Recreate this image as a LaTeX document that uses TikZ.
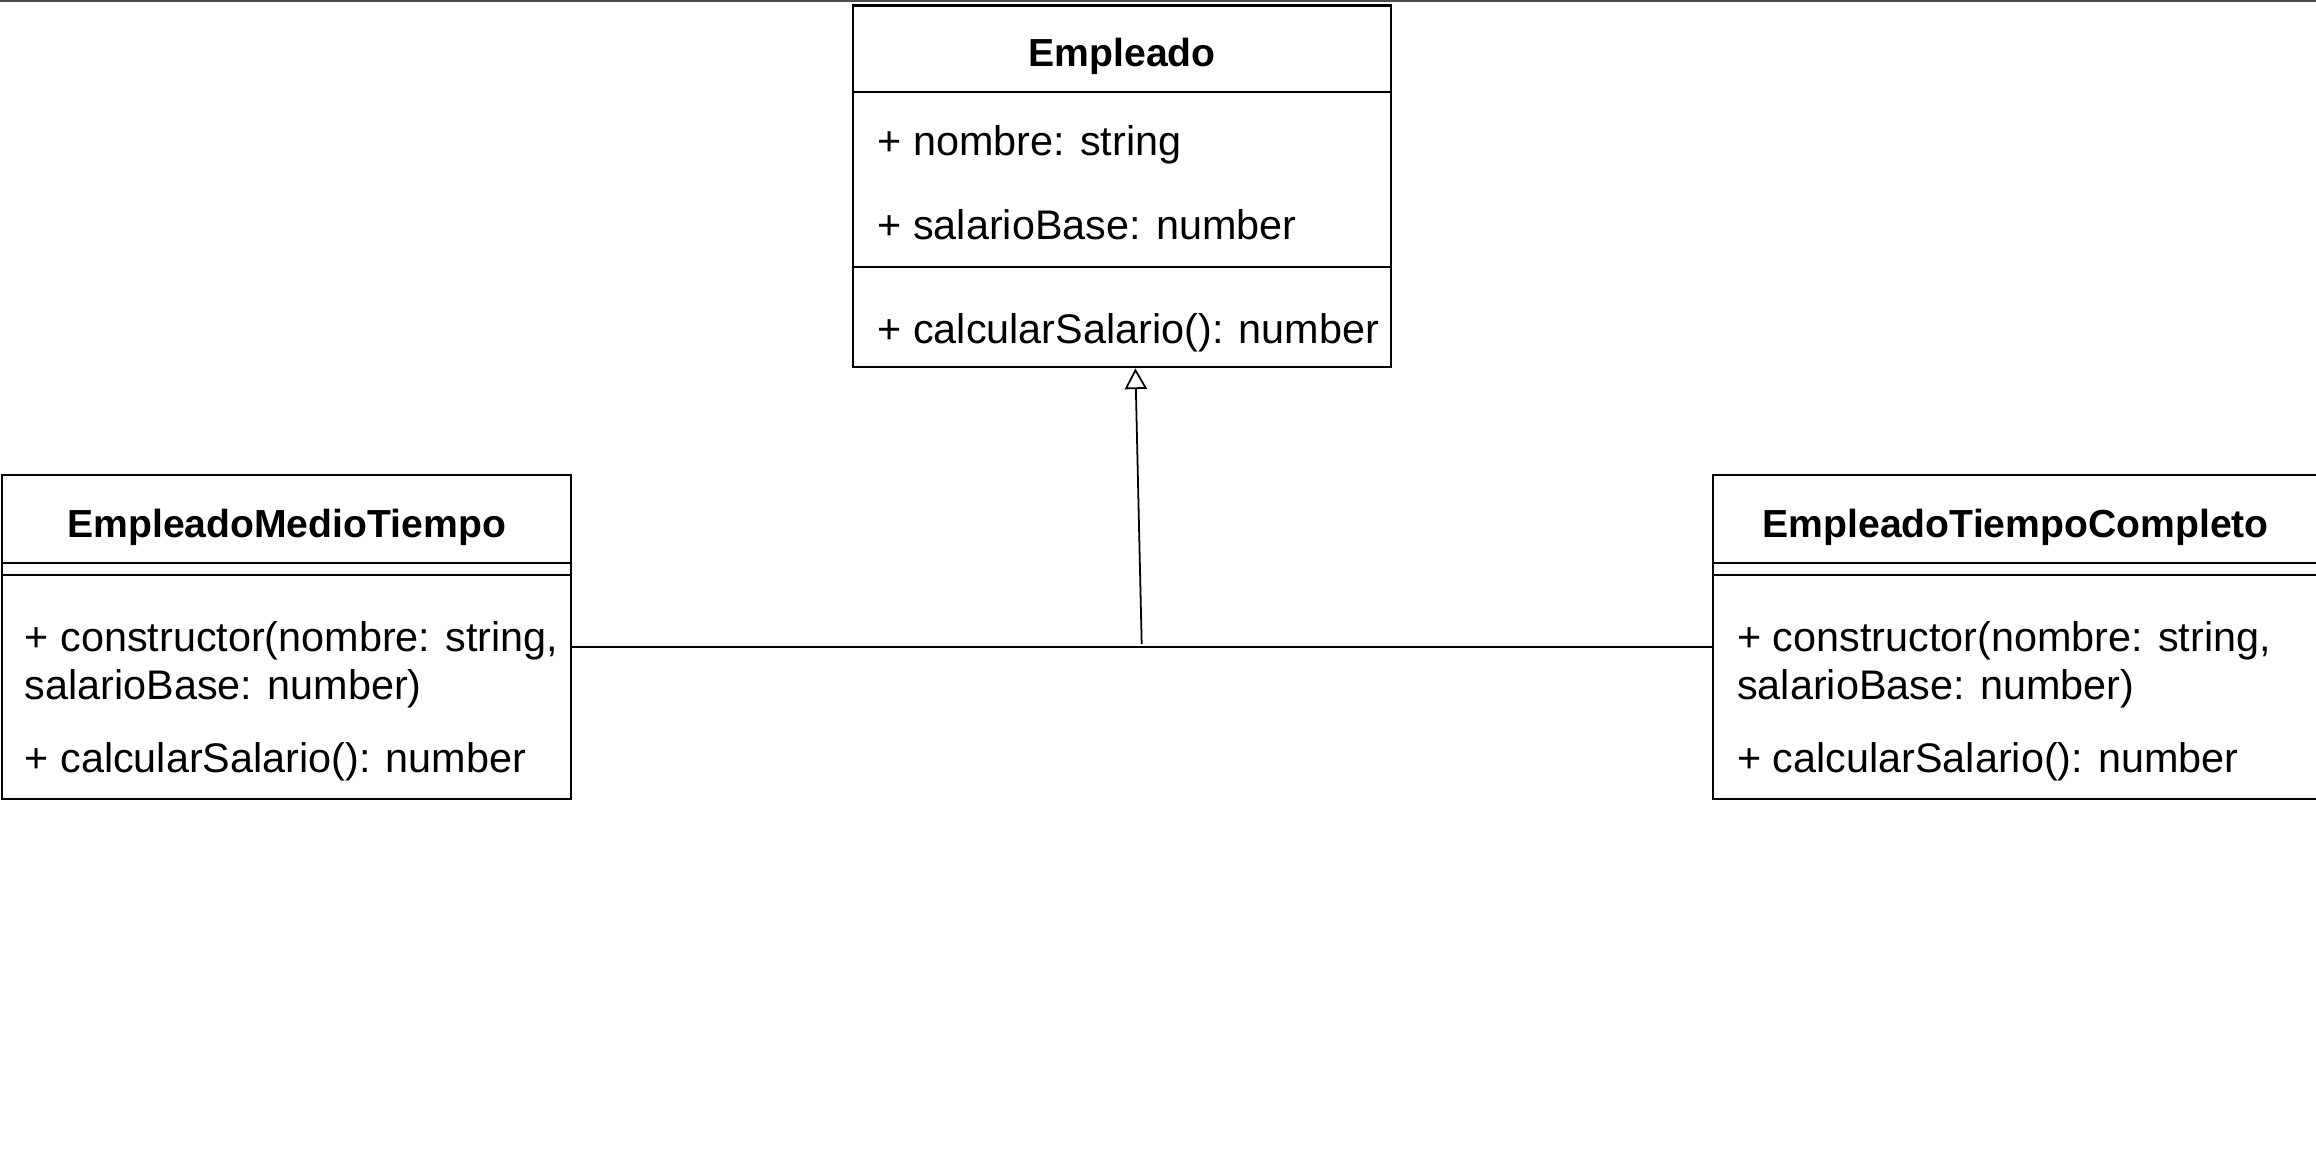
\documentclass[tikz,border=0pt]{standalone}
\usepackage{fontspec}
\setmainfont{Liberation Sans}
\usetikzlibrary{arrows.meta,positioning,calc}
\tikzset{
  uml class/.style={draw, line width=1.4pt, inner sep=0pt, anchor=north west},
  uml title/.style={font=\fontsize{26.5}{30}\selectfont\bfseries, inner sep=0pt},
  uml member/.style={font=\fontsize{28}{32}\selectfont, inner sep=0pt, anchor=west, align=left},
  uml line/.style={line width=1.4pt},
  uml inherit/.style={line width=1.2pt, -{Triangle[open,length=14pt,width=15pt]}},
}
\begin{document}
\begin{tikzpicture}[x=1pt,y=-1pt]
    \useasboundingbox (0,0) rectangle (1568,790.8);
    \draw[line width=3pt, black!70] (0,0) -- (1568,0);

    % ---- Empleado
    \node[uml class, minimum width=364pt, minimum height=245pt] (emp) at (577,3) {};
    \draw[uml line] ($(emp.north west)+(0,59)$) -- ($(emp.north east)+(0,59)$);
    \draw[uml line] ($(emp.north west)+(0,178)$) -- ($(emp.north east)+(0,178)$);
    \node[uml title] (empT) at ($(emp.north)+(0,35)$) {Empleado};
    \node[uml member] (empA1) at ($(emp.north west)+(17,95)$) {+ nombre: string};
    \node[uml member] (empA2) at ($(emp.north west)+(17,149)$) {+ salarioBase: number};
    \node[uml member] (empM1) at ($(emp.north west)+(17,222)$) {+ calcularSalario(): number};

    % ---- EmpleadoMedioTiempo
    \node[uml class, minimum width=385.5pt, minimum height=219pt] (medio) at (0.6,321) {};
    \draw[uml line] ($(medio.north west)+(0,60)$) -- ($(medio.north east)+(0,60)$);
    \draw[uml line] ($(medio.north west)+(0,68)$) -- ($(medio.north east)+(0,68)$);
    \node[uml title] (medioT) at ($(medio.north)+(0,36)$) {EmpleadoMedioTiempo};
    \node[uml member] (medioM1) at ($(medio.north west)+(16,129)$) {+ constructor(nombre: string,\\salarioBase: number)};
    \node[uml member] (medioM2) at ($(medio.north west)+(16,195)$) {+ calcularSalario(): number};

    % ---- EmpleadoTiempoCompleto
    \node[uml class, minimum width=410pt, minimum height=219pt] (comp) at (1159,321) {};
    \draw[uml line] ($(comp.north west)+(0,60)$) -- ($(comp.north east)+(0,60)$);
    \draw[uml line] ($(comp.north west)+(0,68)$) -- ($(comp.north east)+(0,68)$);
    \node[uml title] (compT) at ($(comp.north)+(0,36)$) {EmpleadoTiempoCompleto};
    \node[uml member] (compM1) at ($(comp.north west)+(17,129)$) {+ constructor(nombre: string,\\salarioBase: number)};
    \node[uml member] (compM2) at ($(comp.north west)+(17,195)$) {+ calcularSalario(): number};

    % ---- generalization
    \coordinate (bus) at (773,438);
    \coordinate (tip) at ($(emp.south)+(9,0)$);
    \draw[uml line] (medio.east |- bus) -- (comp.west |- bus);
    \draw[uml inherit, shorten <=2pt] (bus) -- (tip);
\end{tikzpicture}
\end{document}
